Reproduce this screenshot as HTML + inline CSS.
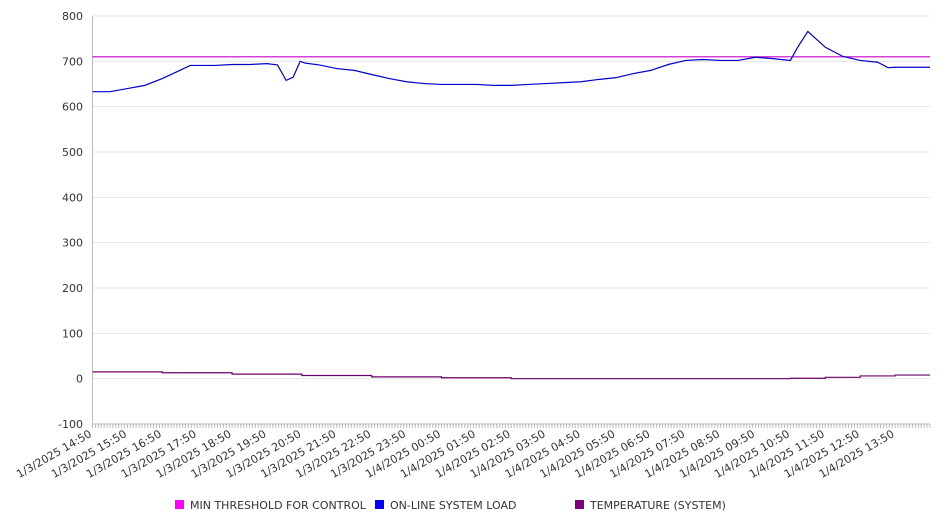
<!DOCTYPE html>
<html><head><meta charset="utf-8"><style>
body{margin:0;background:#fff;font-family:"Liberation Sans","DejaVu Sans",sans-serif;}
svg text{font-family:"DejaVu Sans","Liberation Sans",sans-serif;font-size:11px;fill:#333;}
</style></head><body>
<svg id="chart" width="946" height="526" xmlns="http://www.w3.org/2000/svg"></svg>
<script>
const tickLabels=["1/3/2025 14:50","1/3/2025 15:50","1/3/2025 16:50","1/3/2025 17:50","1/3/2025 18:50","1/3/2025 19:50","1/3/2025 20:50","1/3/2025 21:50","1/3/2025 22:50","1/3/2025 23:50","1/4/2025 00:50","1/4/2025 01:50","1/4/2025 02:50","1/4/2025 03:50","1/4/2025 04:50","1/4/2025 05:50","1/4/2025 06:50","1/4/2025 07:50","1/4/2025 08:50","1/4/2025 09:50","1/4/2025 10:50","1/4/2025 11:50","1/4/2025 12:50","1/4/2025 13:50"];
const yTicks=[-100,0,100,200,300,400,500,600,700,800];
const loadHours=[0,0.5,1,1.5,2,2.5,2.8,3,3.5,4,4.5,5,5.3,5.55,5.75,5.95,6.1,6.5,7,7.5,8,8.5,9,9.5,10,10.5,11,11.5,12,12.5,13,13.5,14,14.5,15,15.5,16,16.5,17,17.5,18,18.5,19,19.5,20,20.2,20.5,20.8,21,21.5,22,22.5,22.8,23,23.5,24];
const loadValues=[633,633,640,647,662,680,691,691,691,693,693,695,692,658,665,700,696,692,684,680,671,662,655,651,649,649,649,647,647,649,651,653,655,660,664,673,680,693,702,704,702,702,709,706,702,730,766,745,731,711,702,698,686,687,687,687];
const tempHours=[0,2,4,6,8,10,12,14,16,18,19,20,21,22,23,24];
const tempValues=[15,13,10,7,4,2,0,0,0,0,0,1,3,6,8,8];
const threshold=710;
const X0=92.5,X1=930,Y0=424,Y1=16,VMIN=-100,VMAX=800,HOURS=24;
const xs=h=>X0+(X1-X0)*h/HOURS;
const ys=v=>Y0-(Y0-Y1)*(v-VMIN)/(VMAX-VMIN);
const svg=document.getElementById('chart');const NS="http://www.w3.org/2000/svg";
function mk(t,a){const e=document.createElementNS(NS,t);for(const k in a)e.setAttribute(k,a[k]);svg.appendChild(e);return e;}
yTicks.forEach(v=>{
 const g=mk('line',{x1:X0,x2:X1,y1:ys(v),y2:ys(v),stroke:v===-100?'#bbb':'#e6e6e6'});
 
 
 const t=mk('text',{x:83,y:ys(v)+4,'text-anchor':'end'});t.textContent=v;
 
 
});
const ax=mk('line',{x1:X0,x2:X0,y1:Y1,y2:Y0,stroke:'#bbb'});


for(let i=0;i<=HOURS*12;i++){const x=xs(i/12);const tk=mk('line',{x1:x,x2:x,y1:Y0,y2:Y0+4,stroke:'#bbb'});
 
 }
tickLabels.forEach((l,i)=>{const x=xs(i);const t=mk('text',{x:x,y:Y0+12,'text-anchor':'end',transform:`rotate(-30 ${x} ${Y0+12})`});t.textContent=l;
 
 });
const th=mk('line',{x1:X0,x2:X1,y1:ys(threshold),y2:ys(threshold),stroke:'#c800c8','stroke-width':1.2});


const lp=mk('polyline',{points:loadHours.map((h,i)=>xs(h)+','+ys(loadValues[i])).join(' '),fill:'none',stroke:'#0000cc','stroke-width':1.2});


let tp=[];tempHours.forEach((h,i)=>{if(i>0)tp.push(xs(h)+','+ys(tempValues[i-1]));tp.push(xs(h)+','+ys(tempValues[i]));});
const tl=mk('polyline',{points:tp.join(' '),fill:'none',stroke:'#6a006a','stroke-width':1.2});


[["MIN THRESHOLD FOR CONTROL","#ff00ff",175],["ON-LINE SYSTEM LOAD","#0000ff",375],["TEMPERATURE (SYSTEM)","#800080",575]].forEach(([n,c,x])=>{
 const r=mk('rect',{x:x,y:500,width:9,height:9,fill:c});
 
 
 const t=mk('text',{x:x+15,y:509});t.textContent=n;
 
 
});
</script>
</body></html>
